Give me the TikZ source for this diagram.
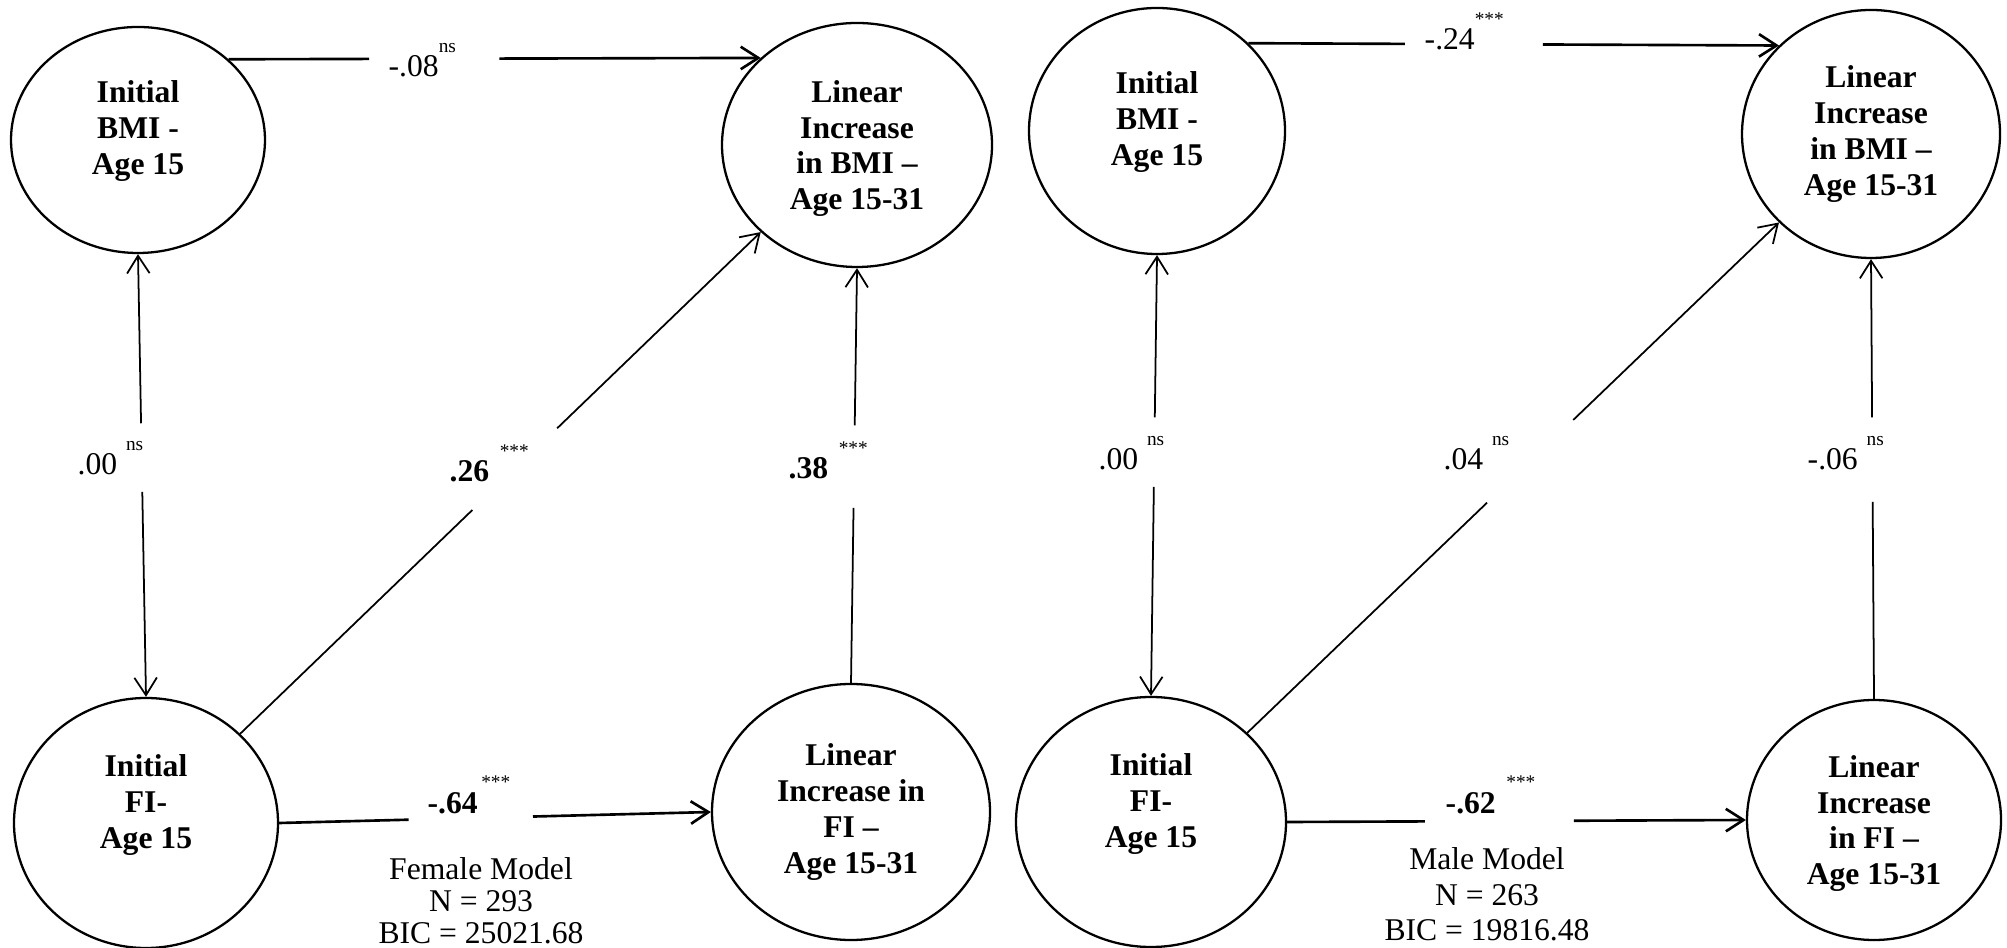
\documentclass[tikz,border=0pt]{standalone}
\usepackage{fontspec}
\setmainfont{Liberation Serif}
\usetikzlibrary{shapes.geometric,arrows.meta}

\newcommand*{\sig}[1]{\raisebox{7pt}{\fontsize{5.5}{6}\selectfont #1}}

\tikzset{
  latent/.style={draw,ellipse,line width=0.65pt,inner sep=0pt,align=center,
    font=\fontsize{9}{10.2}\selectfont\bfseries},
  lift/.style={text depth=#1},
  coef/.style={anchor=base west,inner sep=0pt,font=\fontsize{9}{10}\selectfont},
  model/.style={anchor=north,align=center,inner sep=0pt},
  thickpath/.style={line width=0.75pt},
  thinpath/.style={line width=0.5pt},
  >={Straight Barb[length=5pt,width=6.4pt]},
}

\begin{document}
\begin{tikzpicture}

	\useasboundingbox (0,0) rectangle (20.07,-9.48);

	% female model
	\node[latent,lift=7.2pt,minimum width=2.54cm,minimum height=2.26cm] (bmiF) at (1.38,-1.40) {Initial\\BMI -\\Age 15};
	\node[latent,lift=0pt,minimum width=2.70cm,minimum height=2.44cm] (lbmiF) at (8.57,-1.45) {Linear\\Increase\\in BMI –\\Age 15-31};
	\node[latent,lift=12.2pt,minimum width=2.64cm,minimum height=2.50cm] (fiF) at (1.46,-8.23) {Initial\\FI-\\Age 15};
	\node[latent,minimum width=2.78cm,minimum height=2.56cm] (lfiF) at (8.51,-8.12) {Linear\\Increase in\\FI –\\Age 15-31};

	\path (bmiF.north east) -- coordinate[pos=.264] (f1a) coordinate[pos=.509] (f1b) (lbmiF.north west);
	\draw[thickpath] (bmiF.north east) -- (f1a);
	\draw[thickpath,->] (f1b) -- (lbmiF.north west);

	\path (bmiF.south) -- coordinate[pos=.382] (f2a) coordinate[pos=.537] (f2b) (fiF.north);
	\draw[thinpath,->] (f2a) -- (bmiF.south);
	\draw[thinpath,->] (f2b) -- (fiF.north);

	\path (fiF.north east) -- coordinate[pos=.446] (f3a) coordinate[pos=.609] (f3b) (lbmiF.south west);
	\draw[thinpath] (fiF.north east) -- (f3a);
	\draw[thinpath,->] (f3b) -- (lbmiF.south west);

	\path (lfiF.north) -- coordinate[pos=.422] (f4a) coordinate[pos=.621] (f4b) (lbmiF.south);
	\draw[thinpath] (lfiF.north) -- (f4a);
	\draw[thinpath,->] (f4b) -- (lbmiF.south);

	\path (fiF.east) -- coordinate[pos=.30] (f5a) coordinate[pos=.588] (f5b) (lfiF.west);
	\draw[thickpath] (fiF.east) -- (f5a);
	\draw[thickpath,->] (f5b) -- (lfiF.west);

	\node[coef] (cf1) at (3.88,-0.77) {-.08\sig{ns}};
	\node[coef] (cf2) at (0.77,-4.75) {.00\hspace{2.5pt}\sig{ns}};
	\node[coef] (cf3) at (4.49,-4.82) {\textbf{.26}\hspace{3pt}\sig{***}};
	\node[coef] (cf4) at (7.88,-4.79) {\textbf{.38}\hspace{3pt}\sig{***}};
	\node[coef] (cf5) at (4.27,-8.13) {\textbf{-.64}\hspace{1pt}\sig{***}};

	\node[model,font=\fontsize{9}{9.1}\selectfont] (fmod) at (4.81,-8.565) {Female Model\\N = 293\\BIC = 25021.68};

	% male model
	\node[latent,lift=7.2pt,minimum width=2.56cm,minimum height=2.46cm] (bmiM) at (11.57,-1.31) {Initial\\BMI -\\Age 15};
	\node[latent,minimum width=2.58cm,minimum height=2.48cm] (lbmiM) at (18.71,-1.34) {Linear\\Increase\\in BMI –\\Age 15-31};
	\node[latent,lift=12.2pt,minimum width=2.70cm,minimum height=2.50cm] (fiM) at (11.51,-8.22) {Initial\\FI-\\Age 15};
	\node[latent,lift=0pt,minimum width=2.54cm,minimum height=2.40cm] (lfiM) at (18.74,-8.20) {Linear\\Increase\\in FI –\\Age 15-31};

	\path (bmiM.north east) -- coordinate[pos=.295] (m1a) coordinate[pos=.555] (m1b) (lbmiM.north west);
	\draw[thickpath] (bmiM.north east) -- (m1a);
	\draw[thickpath,->] (m1b) -- (lbmiM.north west);

	\path (bmiM.south) -- coordinate[pos=.368] (m2a) coordinate[pos=.526] (m2b) (fiM.north);
	\draw[thinpath,->] (m2a) -- (bmiM.south);
	\draw[thinpath,->] (m2b) -- (fiM.north);

	\path (fiM.north east) -- coordinate[pos=.451] (m3a) coordinate[pos=.613] (m3b) (lbmiM.south west);
	\draw[thinpath] (fiM.north east) -- (m3a);
	\draw[thinpath,->] (m3b) -- (lbmiM.south west);

	\path (lfiM.north) -- coordinate[pos=.448] (m4a) coordinate[pos=.640] (m4b) (lbmiM.south);
	\draw[thinpath] (lfiM.north) -- (m4a);
	\draw[thinpath,->] (m4b) -- (lbmiM.south);

	\path (fiM.east) -- coordinate[pos=.30] (m5a) coordinate[pos=.625] (m5b) (lfiM.west);
	\draw[thickpath] (fiM.east) -- (m5a);
	\draw[thickpath,->] (m5b) -- (lfiM.west);

	\node[coef] (cm1) at (14.24,-0.50) {-.24\sig{***}};
	\node[coef] (cm2) at (10.98,-4.70) {.00\hspace{2.5pt}\sig{ns}};
	\node[coef] (cm3) at (14.43,-4.70) {.04\hspace{2.5pt}\sig{ns}};
	\node[coef] (cm4) at (18.07,-4.70) {-.06\hspace{2.5pt}\sig{ns}};
	\node[coef] (cm5) at (14.45,-8.13) {\textbf{-.62}\hspace{3pt}\sig{***}};

	\node[model,font=\fontsize{9}{10.2}\selectfont] (mmod) at (14.87,-8.465) {Male Model\\N = 263\\BIC = 19816.48};

\end{tikzpicture}
\end{document}
